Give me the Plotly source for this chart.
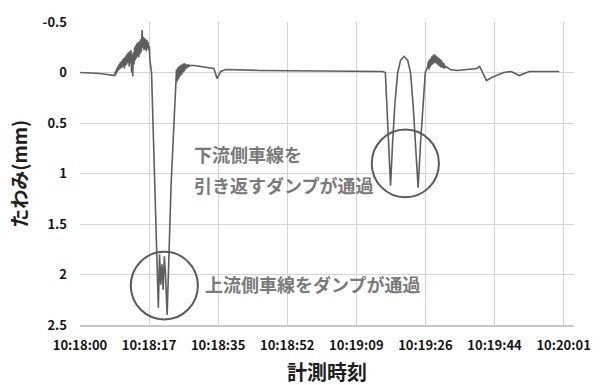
import plotly.graph_objects as go

# Deflection record, seconds after 10:18:00 vs. deflection in mm, in segments

# Quiet start and the noisy rise before the first truck
seg1_t = [0.0, 5.0, 8.70, 8.85, 9.00, 9.15, 9.30, 9.45, 9.60, 9.75, 9.90, 10.05, 10.20,
          10.35, 10.50, 10.65, 10.80, 10.95, 11.10, 11.25, 11.40, 11.55, 11.70, 11.85,
          12.00, 12.15, 12.30, 12.45, 12.60, 12.75, 12.90, 13.05, 13.20, 13.35, 13.50,
          13.65, 13.80, 13.95, 14.10, 14.25, 14.40, 14.55, 14.70, 14.85, 15.00, 15.15,
          15.30, 15.45, 15.55, 15.70, 15.85, 16.00, 16.15, 16.30, 16.45, 16.60, 16.75,
          16.90, 17.05, 17.20, 17.35, 17.50, 17.90]
seg1_mm = [0.00, 0.01, 0.03, -0.01, 0.02, -0.04, 0.00, -0.06, -0.02, -0.08, -0.03, -0.10, -0.04,
           -0.11, -0.05, -0.13, -0.06, -0.14, -0.04, -0.15, -0.07, -0.17, -0.08, -0.19,
           -0.10, -0.20, -0.06, -0.21, -0.09, -0.22, 0.00, -0.18, 0.04, -0.20, -0.08,
           -0.25, -0.12, -0.27, -0.14, -0.29, -0.16, -0.30, -0.15, -0.31, -0.18, -0.33,
           -0.20, -0.36, -0.42, -0.24, -0.35, -0.22, -0.34, -0.23, -0.33, -0.21, -0.32,
           -0.24, -0.30, -0.22, -0.26, -0.12, 0.00]

# Upstream-lane truck passing (deep double dip)
seg2_t = [19.6, 19.9, 20.2, 20.5, 20.8, 21.1, 21.4, 21.8, 22.8]
seg2_mm = [2.33, 1.80, 2.10, 1.90, 2.15, 1.82, 2.00, 2.40, 1.10]

# Recovery vibration and long quiet period
seg3_t = [24.00, 24.15, 24.30, 24.45, 24.60, 24.75, 24.90, 25.05, 25.20, 25.35, 25.50,
          25.65, 25.80, 25.95, 26.10, 26.25, 26.40, 26.55, 26.70, 26.85, 27.00, 27.15,
          27.30, 27.50, 28.5, 30.0, 32.0, 33.5, 34.3, 35.2, 36.5, 45.0, 60.0, 75.7]
seg3_mm = [0.10, -0.03, 0.09, -0.05, 0.07, -0.06, 0.05, -0.07, 0.03, -0.08, 0.02,
           -0.08, 0.00, -0.09, -0.01, -0.09, -0.03, -0.08, -0.04, -0.08, -0.05, -0.08,
           -0.06, -0.07, -0.07, -0.06, -0.05, -0.04, 0.06, -0.01, -0.03, -0.02, -0.015, -0.01]

# Downstream-lane returning truck (two shallow dips)
seg4_t = [76.4, 77.7, 78.2, 78.8, 79.5, 80.2, 81.1, 82.0, 82.7, 83.4, 84.0, 84.6,
          85.2, 85.8, 86.4]
seg4_mm = [0.00, 1.12, 0.70, 0.30, 0.00, -0.12, -0.16, -0.12, 0.00, 0.35, 0.75, 1.14,
           0.70, 0.30, 0.00]

# Vibration after the second truck and settling
seg5_t = [87.00, 87.15, 87.30, 87.45, 87.60, 87.75, 87.90, 88.05, 88.20, 88.35, 88.50,
          88.65, 88.80, 88.95, 89.10, 89.25, 89.40, 89.55, 89.70, 89.85, 90.00, 90.15,
          90.30, 90.45, 90.60, 90.75, 90.90, 91.05, 91.20, 91.50, 92.6, 94.3, 96.8,
          99.3, 100.0, 101.0, 101.7, 103.0, 104.2, 106.0, 107.9, 109.9, 112.4, 115.4, 119.9]
seg5_mm = [-0.06, -0.11, -0.03, -0.13, -0.05, -0.14, -0.07, -0.16, -0.08, -0.17, -0.09,
           -0.18, -0.10, -0.17, -0.09, -0.16, -0.08, -0.15, -0.07, -0.14, -0.06, -0.13,
           -0.05, -0.12, -0.05, -0.10, -0.04, -0.09, -0.04, -0.06, -0.03, -0.02, -0.03,
           -0.04, -0.06, 0.02, 0.08, 0.05, 0.03, 0.00, -0.01, 0.03, -0.01, -0.01, -0.01]

time_s = seg1_t + seg2_t + seg3_t + seg4_t + seg5_t
deflection_mm = seg1_mm + seg2_mm + seg3_mm + seg4_mm + seg5_mm

# Axis ticks
x_tick_text = ["10:18:00", "10:18:17", "10:18:35", "10:18:52",
               "10:19:09", "10:19:26", "10:19:44", "10:20:01"]
x_tick_vals = [i * 121 / 7 for i in range(len(x_tick_text))]
y_tick_vals = [-0.5, 0, 0.5, 1, 1.5, 2, 2.5]
y_tick_text = ["-0.5", "0", "0.5", "1", "1.5", "2", "2.5"]

# Highlight circles: (center time, center deflection)
circle_centers = [(21.1, 2.11), (81.4, 0.90)]
circle_rx, circle_ry = 8.4, 0.335

# Callout texts: (text, time, deflection)
callouts = [
    ("下流側車線を", 28.0, 0.81),
    ("引き返すダンプが通過", 28.0, 1.11),
    ("上流側車線をダンプが通過", 30.8, 2.09),
]

FONT = "Noto Sans CJK JP"

fig = go.Figure()
fig.add_trace(go.Scatter(
    x=time_s, y=deflection_mm, mode="lines",
    line=dict(color="#5e5e5e", width=1.6),
    showlegend=False, hoverinfo="skip",
))

for cx, cy in circle_centers:
    fig.add_shape(type="circle", xref="x", yref="y",
                  x0=cx - circle_rx, x1=cx + circle_rx,
                  y0=cy - circle_ry, y1=cy + circle_ry,
                  line=dict(color="#5a5a5a", width=2))

for text, tx, ty in callouts:
    fig.add_annotation(x=tx, y=ty, xref="x", yref="y", text=text,
                       showarrow=False, xanchor="left", yanchor="middle",
                       font=dict(family=FONT, size=18, color="#7a7a7a", weight=700))

# Axis titles
fig.add_annotation(xref="paper", yref="paper", x=-0.125, y=0.5, text="たわみ(mm)",
                   textangle=-90, showarrow=False, xanchor="center", yanchor="middle",
                   font=dict(family=FONT, size=19, color="#1e1e1e", weight=700))
fig.add_annotation(xref="paper", yref="paper", x=0.5, y=-0.155, text="計測時刻",
                   showarrow=False, xanchor="center", yanchor="middle",
                   font=dict(family=FONT, size=20, color="#1e1e1e", weight=700))

fig.update_layout(
    width=603, height=385,
    margin=dict(l=80, r=25, t=16, b=60),
    paper_bgcolor="white", plot_bgcolor="white",
    font=dict(family=FONT, color="#1e1e1e"),
)
fig.update_xaxes(
    range=[0, 123.6], tickvals=x_tick_vals, ticktext=x_tick_text,
    showgrid=True, gridcolor="#d4d4d4", gridwidth=1,
    showline=True, linecolor="#c8c8c8", linewidth=1.5,
    zeroline=False, ticks="", ticklabelstandoff=8,
    tickfont=dict(family=FONT, size=13, color="#151515", weight=700),
)
fig.update_yaxes(
    range=[2.5, -0.5], tickvals=y_tick_vals, ticktext=y_tick_text,
    showgrid=True, gridcolor="#d4d4d4", gridwidth=1,
    showline=False, zeroline=False, ticks="", ticklabelstandoff=12,
    tickfont=dict(family=FONT, size=13, color="#151515", weight=700),
)

fig.write_html("out.html")
